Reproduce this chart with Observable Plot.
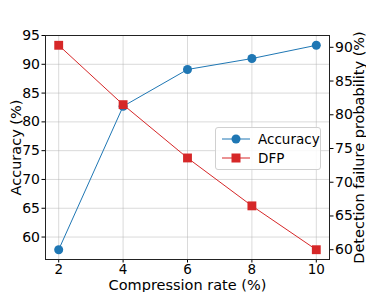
<!DOCTYPE html>
<html><head><meta charset="utf-8">
<script src="https://cdn.jsdelivr.net/npm/d3@7"></script>
<script src="https://cdn.jsdelivr.net/npm/@observablehq/plot@0.6"></script>
<style>
body{margin:0;background:#fff;font-family:"DejaVu Sans",sans-serif;}
#wrap{position:relative;width:366px;height:292px;}
g[aria-label="y-axis label"] text, g[aria-label="x-axis label"] text{font-size:14.5px;}
#legend{position:absolute;left:215px;top:127px;width:106px;height:43px;border:1px solid #d0d0d0;border-radius:3px;background:rgba(255,255,255,0.85);font-size:13.5px;box-sizing:border-box;}
.row{position:absolute;left:6px;display:flex;align-items:center;}
.row span{margin-left:8px;}
</style></head><body>
<div id="wrap"><div id="legend"></div></div>
<script>
const rates = [2, 4, 6, 8, 10];
const accuracy = [57.8, 82.7, 89.1, 91.0, 93.3];
const dfp = [90.3, 81.5, 73.6, 66.5, 60.0];
const accTicks = [60, 65, 70, 75, 80, 85, 90, 95];
const dfpTicks = [60, 65, 70, 75, 80, 85, 90];
const seriesNames = ["Accuracy", "DFP"];
const colors = ["#1f77b4", "#d62728"];

const A = [56.1, 95.0], D = [58.55, 91.75];
const toAcc = v => A[0] + (v - D[0]) * (A[1] - A[0]) / (D[1] - D[0]);
const fromAcc = v => D[0] + (v - A[0]) * (D[1] - D[0]) / (A[1] - A[0]);

const accData = rates.map((r, i) => ({r, v: accuracy[i]}));
const dfpData = rates.map((r, i) => ({r, v: toAcc(dfp[i])}));

const chart = Plot.plot({
  width: 366, height: 292,
  marginLeft: 45, marginRight: 37, marginTop: 35, marginBottom: 33,
  style: {fontFamily: "DejaVu Sans", fontSize: "14px", color: "black", background: "white"},
  x: {domain: [1.59, 10.41]},
  y: {domain: A},
  marks: [
    Plot.gridX(rates, {stroke: "#b0b0b0", strokeOpacity: 0.6, strokeWidth: 0.8}),
    Plot.gridY(accTicks, {stroke: "#b0b0b0", strokeOpacity: 0.6, strokeWidth: 0.8}),
    Plot.axisX(rates, {tickSize: 3.5, tickPadding: 1.5, fontSize: 13.5, label: "Compression rate (%)", labelAnchor: "center", labelArrow: "none", labelOffset: 30}),
    Plot.axisY(accTicks, {tickSize: 3.5, tickPadding: 2, fontSize: 14, label: "Accuracy (%)", labelAnchor: "center", labelArrow: "none", labelOffset: 35}),
    Plot.axisY(dfpTicks.map(toAcc), {anchor: "right", tickSize: 3.5, tickPadding: 2, fontSize: 14, tickFormat: d => Math.round(fromAcc(d)), label: "Detection failure probability (%)", labelAnchor: "center", labelArrow: "none", labelOffset: 34}),
    Plot.line(accData, {x: "r", y: "v", stroke: colors[0], strokeWidth: 1}),
    Plot.dot(accData, {x: "r", y: "v", fill: colors[0], r: 4.5, symbol: "circle"}),
    Plot.line(dfpData, {x: "r", y: "v", stroke: colors[1], strokeWidth: 1}),
    Plot.dot(dfpData, {x: "r", y: "v", fill: colors[1], r: 5, symbol: "square"}),
    Plot.frame({stroke: "#222", strokeWidth: 1})
  ]
});
document.getElementById("wrap").prepend(chart);

const lg = document.getElementById("legend");
seriesNames.forEach((n, i) => {
  const row = document.createElement("div");
  row.className = "row";
  row.style.top = (3 + i * 19) + "px";
  const sym = i === 0
    ? `<circle cx="14" cy="8" r="4.5" fill="${colors[i]}"/>`
    : `<rect x="9.5" y="3.5" width="9" height="9" fill="${colors[i]}"/>`;
  row.innerHTML = `<svg width="28" height="16"><line x1="0" x2="28" y1="8" y2="8" stroke="${colors[i]}" stroke-width="1"/>${sym}</svg><span>${n}</span>`;
  lg.appendChild(row);
});
</script>
</body></html>
